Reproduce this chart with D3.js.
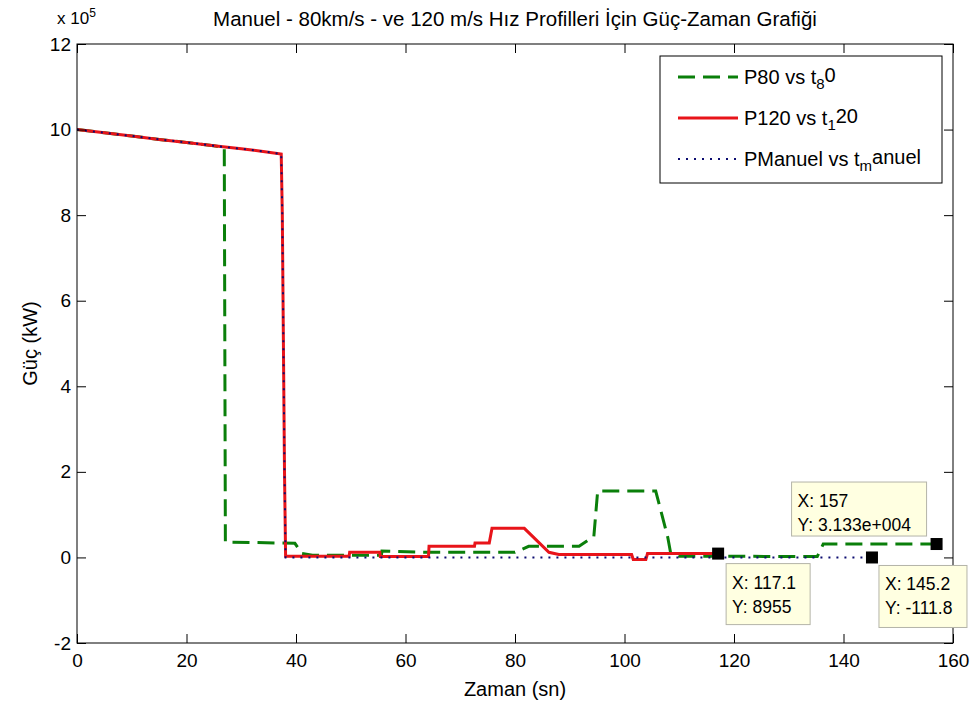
<!DOCTYPE html>
<html>
<head>
<meta charset="utf-8">
<script src="https://cdn.jsdelivr.net/npm/d3@7"></script>
<style>
  body { margin: 0; background: #fff; }
  text { font-family: "Liberation Sans", Arial, sans-serif; fill: #000; }
</style>
</head>
<body>
<div id="chart"></div>
<script>
// veriler (zaman sn, güç kW)
var t80 = [0, 5, 10, 15, 20, 25, 26.9, 27.0, 27.1, 39.8, 41.1, 43, 55.6, 55.7, 64.2, 80, 82.5, 91.7, 94.4, 95.1, 105.7, 107.9, 108.4, 110, 135.2, 136.3, 157];
var p80 = [1000000, 992500, 985000, 977000, 970000, 962000, 958000, 500000, 36000, 33000, 9000, 5000, 5000, 15000, 12000, 12000, 26000, 26000, 49000, 155000, 155000, 47000, 12000, 3000, 2000, 31330, 31330];

var t120 = [0, 5, 10, 15, 20, 25, 30, 34, 37.3, 37.5, 37.7, 37.9, 38.1, 49.7, 49.8, 55.3, 55.4, 64.2, 64.3, 72.6, 72.7, 75.3, 75.8, 81.7, 86.2, 88, 101.3, 101.6, 103.9, 104.2, 117.1];
var p120 = [1000000, 992500, 985000, 977000, 970000, 962000, 955000, 949000, 943000, 800000, 500000, 200000, 3000, 3000, 12000, 12000, 2000, 2000, 26000, 26000, 34000, 34000, 68000, 68000, 12000, 7000, 7000, -5000, -5000, 9000, 8955];

var tManuel = [0, 5, 10, 15, 20, 25, 30, 34, 37.3, 37.5, 37.7, 37.9, 38.1, 60, 90, 120, 145.2];
var pManuel = [1000000, 992500, 985000, 977000, 970000, 962000, 955000, 949000, 943000, 800000, 500000, 200000, 0, 0, 0, 0, -111.8];

var xTicks = [0, 20, 40, 60, 80, 100, 120, 140, 160];
var yTicks = [-200000, 0, 200000, 400000, 600000, 800000, 1000000, 1200000];

// data tip'ler
var tipX = [117.1, 145.2, 157];
var tipY = [8955, -111.8, 31330];
var tipLines = [["X: 117.1", "Y: 8955"], ["X: 145.2", "Y: -111.8"], ["X: 157", "Y: 3.133e+004"]];
// kutu yerleşimi (işaretçiye göre dx, dy, genişlik, yükseklik)
var tipBox = [[8, 10, 84, 61], [7, 8, 88, 62], [-145, -62, 135, 54]];

var legendNames = [["P80 vs t", "8", "0"], ["P120 vs t", "1", "20"], ["PManuel vs t", "m", "anuel"]];

var W = 973, H = 704;
var margin = { top: 44, right: 20, bottom: 61, left: 77 };
var width = W - margin.left - margin.right;
var height = H - margin.top - margin.bottom;

var svg = d3.select("#chart")
  .append("svg")
  .attr("width", W)
  .attr("height", H)
  .append("g")
  .attr("transform", "translate(" + margin.left + "," + margin.top + ")");

var x = d3.scaleLinear().domain([0, 160]).range([0, width]);
var y = d3.scaleLinear().domain([-200000, 1200000]).range([height, 0]);

function zip(ts, ps) {
  return ts.map(function(t, i) { return { t: t, p: ps[i] }; });
}

var line = d3.line()
  .x(function(d) { return x(d.t); })
  .y(function(d) { return y(d.p); });

svg.append("defs").append("clipPath").attr("id", "clip")
  .append("rect").attr("width", width).attr("height", height);

var plot = svg.append("g").attr("clip-path", "url(#clip)");

var green = "#0a7f0a", red = "#e8141a", blue = "#0c0c70";

plot.append("path")
  .datum(zip(t80, p80))
  .attr("d", line)
  .attr("fill", "none")
  .attr("stroke", green)
  .attr("stroke-width", 3)
  .attr("stroke-dasharray", "17,8");

plot.append("path")
  .datum(zip(t120, p120))
  .attr("d", line)
  .attr("fill", "none")
  .attr("stroke", red)
  .attr("stroke-width", 3);

plot.append("path")
  .datum(zip(tManuel, pManuel))
  .attr("d", line)
  .attr("fill", "none")
  .attr("stroke", blue)
  .attr("stroke-width", 2)
  .attr("stroke-dasharray", "2,6");

// eksenler (matlab tarzı, içe dönük tick)
var tickLen = 9;
svg.append("g")
  .attr("transform", "translate(0," + height + ")")
  .call(d3.axisBottom(x).tickValues(xTicks).tickSizeInner(-tickLen).tickSizeOuter(0).tickPadding(8).tickFormat(d3.format("d")))
  .call(function(g) { g.select(".domain").remove(); })
  .selectAll("text").attr("font-size", "19px").attr("dy", "0.85em");

svg.append("g")
  .call(d3.axisTop(x).tickValues(xTicks).tickSizeInner(-tickLen).tickSizeOuter(0).tickFormat(""))
  .call(function(g) { g.select(".domain").remove(); });

svg.append("g")
  .call(d3.axisLeft(y).tickValues(yTicks).tickSizeInner(-tickLen).tickSizeOuter(0).tickPadding(6)
    .tickFormat(function(d) { return d / 100000; }))
  .call(function(g) { g.select(".domain").remove(); })
  .selectAll("text").attr("font-size", "19px");

svg.append("g")
  .attr("transform", "translate(" + width + ",0)")
  .call(d3.axisRight(y).tickValues(yTicks).tickSizeInner(-tickLen).tickSizeOuter(0).tickFormat(""))
  .call(function(g) { g.select(".domain").remove(); });

svg.selectAll(".tick line").attr("stroke", "#000");

svg.append("rect")
  .attr("width", width)
  .attr("height", height)
  .attr("fill", "none")
  .attr("stroke", "#000")
  .attr("stroke-width", 1);

// x 10^5
var mult = svg.append("text")
  .attr("x", -20)
  .attr("y", -20)
  .attr("font-size", "17px");
mult.append("tspan").text("x 10");
mult.append("tspan").attr("dy", "-0.6em").attr("font-size", "12px").text("5");

// başlık ve eksen etiketleri
svg.append("text")
  .attr("x", width / 2)
  .attr("y", -18)
  .attr("text-anchor", "middle")
  .attr("font-size", "20.5px")
  .text("Manuel - 80km/s - ve 120 m/s Hız Profilleri İçin Güç-Zaman Grafiği");

svg.append("text")
  .attr("x", width / 2)
  .attr("y", height + 53)
  .attr("text-anchor", "middle")
  .attr("font-size", "20px")
  .text("Zaman (sn)");

svg.append("text")
  .attr("transform", "translate(" + (-40) + "," + (height / 2) + ")rotate(-90)")
  .attr("text-anchor", "middle")
  .attr("font-size", "20px")
  .text("Güç (kW)");

// data tip kutuları
tipX.forEach(function(tx, i) {
  var px = x(tx), py = y(tipY[i]);
  var b = tipBox[i];
  var g = svg.append("g");
  g.append("rect")
    .attr("x", px + b[0])
    .attr("y", py + b[1])
    .attr("width", b[2])
    .attr("height", b[3])
    .attr("fill", "#ffffe1")
    .attr("stroke", "#b4b4a8")
    .attr("stroke-width", 1);
  tipLines[i].forEach(function(s, j) {
    g.append("text")
      .attr("x", px + b[0] + 6)
      .attr("y", py + b[1] + 25 + j * 24)
      .attr("font-size", "17.5px")
      .text(s);
  });
  svg.append("rect")
    .attr("x", px - 6)
    .attr("y", py - 6)
    .attr("width", 12)
    .attr("height", 12)
    .attr("fill", "#000");
});

// legend
var lg = svg.append("g").attr("transform", "translate(" + (660 - margin.left) + "," + (56 - margin.top) + ")");
lg.append("rect")
  .attr("width", 282)
  .attr("height", 127)
  .attr("fill", "#fff")
  .attr("stroke", "#000")
  .attr("stroke-width", 1);

var legendStyles = [
  { color: green, w: 3, dash: "17,8" },
  { color: red, w: 3, dash: null },
  { color: blue, w: 2, dash: "2,6" }
];

legendNames.forEach(function(n, i) {
  var ry = 21 + i * 41;
  lg.append("line")
    .attr("x1", 18).attr("x2", 78)
    .attr("y1", ry).attr("y2", ry)
    .attr("stroke", legendStyles[i].color)
    .attr("stroke-width", legendStyles[i].w)
    .attr("stroke-dasharray", legendStyles[i].dash);
  var t = lg.append("text")
    .attr("x", 84)
    .attr("y", ry + 7)
    .attr("font-size", "20px");
  t.append("tspan").text(n[0]);
  t.append("tspan").attr("dy", "0.35em").attr("font-size", "15px").text(n[1]);
  t.append("tspan").attr("dy", "-0.35em").text(n[2]);
});
</script>
</body>
</html>
